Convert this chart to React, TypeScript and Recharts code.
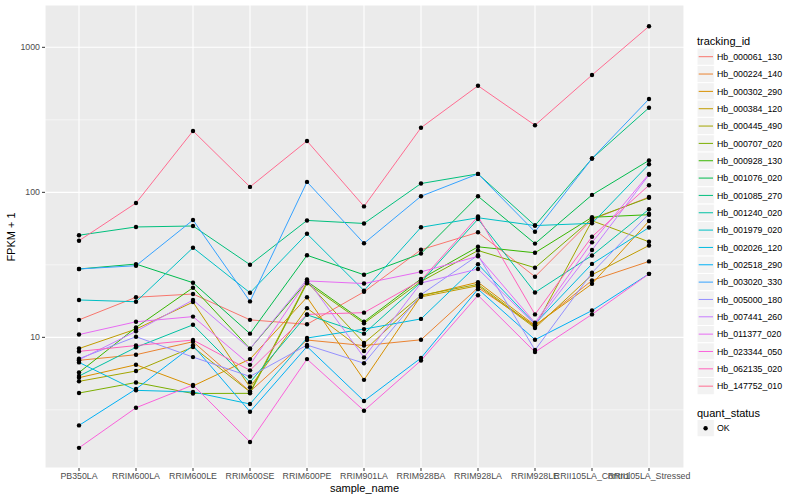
import React from "react";
import { LineChart, Line, XAxis, YAxis, CartesianGrid, ReferenceLine } from "recharts";

const categories = [
  "PB350LA", "RRIM600LA", "RRIM600LE", "RRIM600SE", "RRIM600PE", "RRIM901LA",
  "RRIM928BA", "RRIM928LA", "RRIM928LE", "RRII105LA_Control", "RRII105LA_Stressed",
];

const seriesIds = [
  "Hb_000061_130", "Hb_000224_140", "Hb_000302_290", "Hb_000384_120", "Hb_000445_490",
  "Hb_000707_020", "Hb_000928_130", "Hb_001076_020", "Hb_001085_270", "Hb_001240_020",
  "Hb_001979_020", "Hb_002026_120", "Hb_002518_290", "Hb_003020_330", "Hb_005000_180",
  "Hb_007441_260", "Hb_011377_020", "Hb_023344_050", "Hb_062135_020", "Hb_147752_010",
];

const seriesColors = [
  "#F8766D", "#EA8331", "#D89000", "#C09B00", "#A3A500", "#7CAE00", "#39B600", "#00BB4E",
  "#00BF7D", "#00C1A3", "#00BFC4", "#00BAE0", "#00B0F6", "#35A2FF", "#9590FF", "#C77CFF",
  "#E76BF3", "#FA62DB", "#FF62BC", "#FF6C91",
];

const v000061 = [13.2, 18.9, 19.9, 13.2, 12.3, 20.6, 40.2, 53, 26.2, 65, 92.8];
const v000224 = [6.94, 7.59, 9.33, 4.23, 9.58, 8.78, 9.62, 22.0, 12.0, 24.7, 33.4];
const v000302 = [5.27, 6.47, 4.62, 7.08, 18.9, 5.09, 19.3, 24.0, 12.1, 23.4, 63.4];
const v000384 = [8.37, 11.4, 17.5, 4.52, 15.9, 8.05, 19.0, 22.7, 11.6, 27.0, 43];
const v000445 = [4.97, 5.86, 8.57, 4.2, 24.1, 9.14, 19.5, 23.2, 11.8, 63.7, 45.6];
const v000707 = [4.13, 4.88, 4.10, 4.11, 23.6, 12.5, 24.3, 39.7, 30.2, 65.8, 91.8];
const v000928 = [5.72, 11.7, 22.0, 8.34, 24.3, 12.8, 25.3, 42.1, 38.3, 67.3, 70.1];
const v001076 = [29.6, 32, 23.8, 10.6, 36.8, 27.0, 37.8, 94, 44.3, 96, 166];
const v001085 = [50.6, 57.7, 58.6, 31.7, 64, 61, 115, 134, 59, 171, 383];
const v001240 = [5.41, 8.53, 12.2, 4.9, 14.3, 10.6, 24.0, 65.4, 20.4, 36.7, 76.4];
const v001979 = [18.1, 17.6, 41.5, 20.3, 51.8, 21.0, 57.4, 66.8, 59, 61.1, 156];
const v002026 = [6.72, 4.31, 4.20, 3.47, 9.89, 11.4, 13.4, 31.9, 12.4, 32.1, 57.2];
const v002518 = [2.47, 4.40, 8.78, 3.07, 8.64, 3.64, 7.20, 21.5, 9.63, 15.3, 27.4];
const v003020 = [29.6, 31.2, 64.4, 17.7, 118, 44.5, 94, 134, 53.5, 171, 440];
const v005000 = [7.12, 10.1, 7.31, 5.37, 8.85, 6.63, 19.7, 36.8, 8.17, 27.9, 71.2];
const v007441 = [7.0, 11.0, 18.1, 8.34, 25.1, 7.27, 23.7, 29.6, 12.3, 40, 132];
const v011377 = [10.45, 12.8, 13.9, 6.46, 24.5, 23.5, 28.3, 36.2, 12.6, 45.2, 134];
const v023344 = [1.73, 3.27, 4.69, 1.90, 7.08, 3.12, 6.92, 19.5, 7.92, 14.4, 27.4];
const v062135 = [8.0, 8.78, 9.58, 5.92, 14.4, 14.8, 24.7, 68.2, 14.4, 49.4, 112];
const v147752 = [46.4, 84.4, 265, 109, 226, 80, 279, 543, 290, 644, 1396];

const seriesValues = [
  v000061, v000224, v000302, v000384, v000445, v000707, v000928, v001076, v001085, v001240,
  v001979, v002026, v002518, v003020, v005000, v007441, v011377, v023344, v062135, v147752,
];

const yTicks = [10, 100, 1000];
const yMinor = [3.1623, 31.623, 316.23];
const yDomain = [1.256, 1958];

const data = categories.map((c, i) => {
  const row: Record<string, any> = { sample_name: c };
  seriesIds.forEach((id, k) => {
    row[id] = seriesValues[k][i];
  });
  return row;
});

const FONT = "'Liberation Sans', Arial, Helvetica, sans-serif";

export default function App() {
  const legendTop = 56.7;
  const legendStep = 17.34;
  return (
    <div style={{ position: "absolute", left: 0, top: 0, width: 800, height: 500, background: "#fff", fontFamily: FONT }}>
      <LineChart
        width={800}
        height={500}
        data={data}
        margin={{ top: 5, right: 116, bottom: 0, left: 0 }}
      >
        <CartesianGrid fill="#EBEBEB" stroke="#FFFFFF" strokeWidth={1.1} />
        {yMinor.map((m) => (
          <ReferenceLine key={m} y={m} stroke="#FFFFFF" strokeWidth={0.55} />
        ))}
        <XAxis
          dataKey="sample_name"
          type="category"
          scale="point"
          padding={{ left: 34, right: 35 }}
          height={32}
          interval={0}
          axisLine={false}
          tickSize={3}
          tickMargin={2}
          tickLine={{ stroke: "#333333" }}
          tick={{ fill: "#4D4D4D", fontSize: 8.8, fontFamily: FONT }}
        />
        <YAxis
          type="number"
          scale="log"
          domain={yDomain}
          allowDataOverflow
          ticks={yTicks}
          width={45}
          axisLine={false}
          tickSize={3}
          tickMargin={2}
          tickLine={{ stroke: "#333333" }}
          tick={{ fill: "#4D4D4D", fontSize: 8.8, fontFamily: FONT }}
        />
        {seriesIds.map((id, k) => (
          <Line
            key={id}
            dataKey={id}
            stroke={seriesColors[k]}
            strokeWidth={1}
            dot={false}
            activeDot={false}
            isAnimationActive={false}
          />
        ))}
        {seriesIds.map((id) => (
          <Line
            key={id + "_pts"}
            dataKey={id}
            stroke="none"
            strokeWidth={0}
            dot={{ r: 2.2, fill: "#000000", stroke: "none" }}
            activeDot={false}
            isAnimationActive={false}
          />
        ))}
      </LineChart>
      <svg
        width={800}
        height={500}
        style={{ position: "absolute", left: 0, top: 0, pointerEvents: "none" }}
      >
        <text x={364.5} y={492} textAnchor="middle" fontSize={11} fill="#000" fontFamily={FONT}>
          sample_name
        </text>
        <text
          x={15}
          y={237}
          textAnchor="middle"
          fontSize={11}
          fill="#000"
          fontFamily={FONT}
          transform="rotate(-90 15 237)"
        >
          FPKM + 1
        </text>
        <text x={697} y={44.5} fontSize={11} fill="#000" fontFamily={FONT}>
          tracking_id
        </text>
        {seriesIds.map((id, k) => {
          const cy = legendTop + k * legendStep;
          return (
            <g key={id}>
              <rect x={697} y={cy - 8.67} width={17.3} height={17.3} fill="#F2F2F2" stroke="#FFFFFF" strokeWidth={1} />
              <line x1={698.7} x2={713} y1={cy} y2={cy} stroke={seriesColors[k]} strokeWidth={1} />
              <text x={717} y={cy + 3.2} fontSize={8.8} fill="#000" fontFamily={FONT}>
                {id}
              </text>
            </g>
          );
        })}
        <text x={697} y={417} fontSize={11} fill="#000" fontFamily={FONT}>
          quant_status
        </text>
        <rect x={697} y={419.5} width={17.3} height={17.3} fill="#F2F2F2" stroke="#FFFFFF" strokeWidth={1} />
        <circle cx={705.6} cy={428.2} r={2.2} fill="#000" />
        <text x={717} y={431.4} fontSize={8.8} fill="#000" fontFamily={FONT}>
          OK
        </text>
      </svg>
    </div>
  );
}
